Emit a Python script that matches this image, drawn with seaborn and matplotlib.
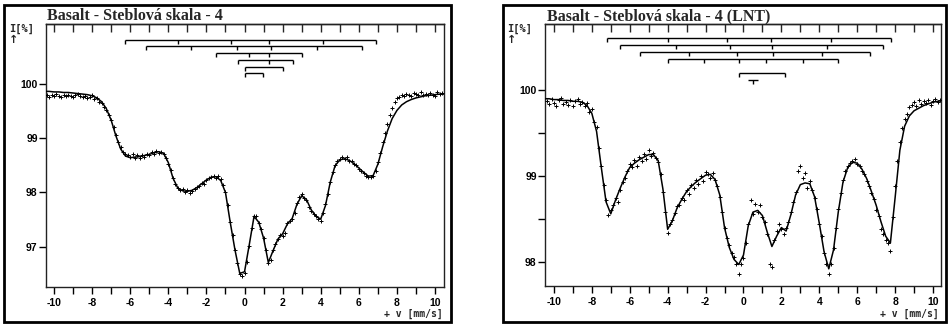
import numpy as np
import pandas as pd
import seaborn as sns
import matplotlib
matplotlib.use("Agg")
import matplotlib.pyplot as plt
from matplotlib.patches import Rectangle
from matplotlib.transforms import blended_transform_factory

# ---------------- data ----------------
TITLE_LEFT = "Basalt - Steblová skala - 4"
TITLE_RIGHT = "Basalt - Steblová skala - 4 (LNT)"
Y_LABEL = "I[%]"
X_LABEL = "+ v [mm/s]"

# fitted curve, velocity channels -10.5 ... 10.5 mm/s step 0.25
FIT_START, FIT_STEP = -10.5, 0.25
LEFT_FIT = [
    99.86, 99.86, 99.85, 99.85, 99.84, 99.84, 99.83, 99.82, 99.81, 99.80,
    99.78, 99.74, 99.67, 99.54, 99.33, 99.04, 98.80, 98.67, 98.64, 98.65,
    98.66, 98.68, 98.70, 98.73, 98.75, 98.72, 98.55, 98.26, 98.08, 98.03,
    98.02, 98.04, 98.09, 98.16, 98.23, 98.28, 98.29, 98.22, 98.00, 97.45,
    96.94, 96.51, 96.54, 97.04, 97.56, 97.45, 97.16, 96.71, 96.93, 97.14,
    97.24, 97.42, 97.52, 97.78, 97.94, 97.87, 97.68, 97.56, 97.51, 97.76,
    98.19, 98.49, 98.60, 98.62, 98.59, 98.53, 98.45, 98.37, 98.30, 98.31,
    98.52, 98.84, 99.13, 99.36, 99.51, 99.61, 99.67, 99.71, 99.74, 99.76,
    99.78, 99.79, 99.80, 99.81, 99.81,
]
RIGHT_FIT = [
    99.90, 99.90, 99.89, 99.89, 99.88, 99.88, 99.87, 99.87, 99.86, 99.82,
    99.73, 99.52, 99.10, 98.70, 98.56, 98.72, 98.86, 98.99, 99.10, 99.15,
    99.19, 99.22, 99.25, 99.25, 99.18, 98.85, 98.38, 98.48, 98.63, 98.73,
    98.82, 98.88, 98.93, 98.97, 99.01, 99.02, 98.96, 98.78, 98.40, 98.17,
    98.03, 97.97, 98.08, 98.42, 98.58, 98.60, 98.54, 98.35, 98.18, 98.30,
    98.40, 98.36, 98.55, 98.78, 98.90, 98.92, 98.91, 98.76, 98.45, 98.12,
    97.92, 98.14, 98.58, 98.93, 99.10, 99.16, 99.15, 99.08, 98.97, 98.82,
    98.66, 98.47, 98.30, 98.22, 98.75, 99.30, 99.58, 99.70, 99.76, 99.79,
    99.82, 99.84, 99.86, 99.87, 99.88,
]

# measured points, velocity channels -10.375 ... 10.375 mm/s step 0.125
DATA_START, DATA_STEP = -10.375, 0.125
LEFT_DATA = [
    99.80, 99.76, 99.79, 99.77, 99.81, 99.78, 99.75, 99.79,
    99.77, 99.80, 99.78, 99.76, 99.79, 99.81, 99.77, 99.75,
    99.78, 99.74, 99.76, 99.79, 99.72, 99.73, 99.66, 99.64,
    99.58, 99.52, 99.43, 99.33, 99.20, 99.05, 98.93, 98.83,
    98.74, 98.70, 98.69, 98.66, 98.70, 98.64, 98.68, 98.63,
    98.69, 98.66, 98.71, 98.68, 98.74, 98.70, 98.76, 98.73,
    98.75, 98.70, 98.64, 98.53, 98.42, 98.26, 98.16, 98.09,
    98.05, 98.07, 98.01, 98.04, 97.99, 98.03, 98.06, 98.10,
    98.12, 98.17, 98.15, 98.22, 98.26, 98.28, 98.31, 98.27,
    98.30, 98.24, 98.14, 98.00, 97.76, 97.46, 97.22, 96.95,
    96.70, 96.50, 96.47, 96.52, 96.72, 97.02, 97.35, 97.57,
    97.57, 97.44, 97.33, 97.16, 96.95, 96.70, 96.76, 96.95,
    97.05, 97.14, 97.22, 97.20, 97.26, 97.44, 97.48, 97.51,
    97.63, 97.80, 97.92, 97.98, 97.90, 97.86, 97.74, 97.66,
    97.60, 97.56, 97.52, 97.48, 97.62, 97.78, 97.98, 98.20,
    98.38, 98.50, 98.58, 98.62, 98.65, 98.61, 98.66, 98.58,
    98.57, 98.52, 98.50, 98.44, 98.40, 98.35, 98.31, 98.28,
    98.29, 98.31, 98.40, 98.56, 98.72, 98.92, 99.10, 99.26,
    99.42, 99.55, 99.66, 99.73, 99.76, 99.79, 99.77, 99.82,
    99.80, 99.78, 99.83, 99.81, 99.79, 99.84, 99.80, 99.82,
    99.79, 99.83, 99.80, 99.78, 99.84, 99.81, 99.83,
]
RIGHT_DATA = [
    99.87, 99.84, 99.90, 99.85, 99.82, 99.88, 99.91, 99.84,
    99.86, 99.83, 99.89, 99.81, 99.87, 99.90, 99.84, 99.86,
    99.82, 99.85, 99.74, 99.78, 99.63, 99.57, 99.33, 99.12,
    98.90, 98.72, 98.55, 98.60, 98.66, 98.74, 98.70, 98.84,
    98.93, 98.98, 99.06, 99.14, 99.10, 99.19, 99.12, 99.22,
    99.18, 99.26, 99.20, 99.30, 99.23, 99.27, 99.21, 99.16,
    99.02, 98.82, 98.58, 98.34, 98.44, 98.49, 98.57, 98.65,
    98.66, 98.75, 98.72, 98.84, 98.79, 98.90, 98.86, 98.95,
    98.91, 99.00, 98.94, 99.05, 99.02, 98.98, 99.04, 98.95,
    98.88, 98.76, 98.58, 98.40, 98.28, 98.20, 98.10, 98.06,
    97.98, 97.86, 97.98, 98.05, 98.22, 98.44, 98.72, 98.56,
    98.68, 98.58, 98.66, 98.52, 98.46, 98.33, 97.98, 97.94,
    98.26, 98.36, 98.44, 98.38, 98.33, 98.40, 98.46, 98.58,
    98.70, 98.82, 99.06, 99.12, 98.98, 99.04, 98.86, 98.94,
    98.84, 98.74, 98.62, 98.44, 98.30, 98.10, 97.98, 97.86,
    97.98, 98.16, 98.40, 98.62, 98.80, 98.95, 99.06, 99.12,
    99.15, 99.18, 99.20, 99.14, 99.12, 99.06, 99.02, 98.94,
    98.88, 98.80, 98.73, 98.60, 98.54, 98.38, 98.32, 98.26,
    98.22, 98.13, 98.52, 98.88, 99.18, 99.40, 99.56, 99.66,
    99.72, 99.80, 99.83, 99.86, 99.82, 99.88, 99.84, 99.87,
    99.85, 99.89, 99.83, 99.87, 99.90, 99.86, 99.88,
]

# line positions of the fitted components (stick diagrams), mm/s
LEFT_STICKS = [
    [-6.27, -3.47, -0.73, 1.30, 4.12, 6.89],
    [-5.15, -2.81, -0.41, 1.38, 3.79, 6.15],
    [-1.51, 0.25, 1.30, 3.00],
    [-0.33, 1.30, 2.53],
    [0.00, 2.00],
    [0.00, 0.95],
]
RIGHT_STICKS = [
    [-7.22, -4.00, -0.89, 1.45, 4.60, 7.78],
    [-6.52, -3.56, -0.71, 1.49, 4.42, 7.35],
    [-5.46, -2.86, -0.33, 1.54, 4.16, 6.68],
    [-4.00, -2.08, -0.22, 1.19, 3.12, 5.00],
    [-0.22, 2.19],
    [0.52],
]

LEFT_YTICKS = [97, 98, 99, 100]
RIGHT_YTICKS = [98, 99, 100]
RIGHT_YMINOR = [98.5, 99.5]
XTICKS = [-10, -8, -6, -4, -2, 0, 2, 4, 6, 8, 10]


def make_frames(fit, data):
    fv = FIT_START + FIT_STEP * np.arange(len(fit))
    dv = DATA_START + DATA_STEP * np.arange(len(data))
    return (pd.DataFrame({"v": fv, "I": fit}),
            pd.DataFrame({"v": dv, "I": data}))


# ---------------- style ----------------
sns.set_theme(style="white")
plt.rcParams["font.family"] = ["Liberation Sans", "DejaVu Sans"]
plt.rcParams["axes.edgecolor"] = "#222222"
plt.rcParams["axes.linewidth"] = 1.0

fig = plt.figure(figsize=(9.48, 3.25), dpi=100)
W, H = 948.0, 325.0


def fx(px):
    return px / W


def fy(py):
    return 1 - py / H


def draw_panel(ax_box, frame_box, fit, data, sticks, stick_levels, xlim, ylim,
               yticks, yminor, title, title_x, ylab_x, xlab_right):
    x0, y0, x1, y1 = ax_box
    ax = fig.add_axes([fx(x0), fy(y1), fx(x1 - x0), (y1 - y0) / H])
    fdf, ddf = make_frames(fit, data)
    sns.scatterplot(data=ddf, x="v", y="I", marker="+", s=11, color="black",
                    linewidth=0.7, ax=ax, legend=False, zorder=3)
    sns.lineplot(data=fdf, x="v", y="I", color="black", linewidth=1.1,
                 ax=ax, legend=False, zorder=4)
    ax.set_xlim(*xlim)
    ax.set_ylim(*ylim)
    ax.set_xlabel("")
    ax.set_ylabel("")
    ax.set_xticks(XTICKS)
    ax.set_xticks([t for t in range(-9, 10, 2)], minor=True)
    ax.set_xticklabels([str(t) for t in XTICKS], fontsize=7.5, fontweight="bold")
    ax.set_yticks(yticks)
    ax.set_yticklabels([str(t) for t in yticks], fontsize=7.5, fontweight="bold")
    if yminor:
        ax.set_yticks(yminor, minor=True)
    ax.tick_params(axis="x", which="both", direction="out", length=5, width=1,
                   bottom=True, top=False, pad=3, colors="black")
    ax.tick_params(axis="y", which="both", direction="out", length=5, width=1,
                   left=True, right=False, pad=1, colors="black")
    sec = ax.secondary_xaxis("top")
    sec.set_xticks(list(range(-10, 11)))
    sec.tick_params(direction="in", length=6, width=1, labeltop=False)
    sec.set_xticklabels([])
    for s in ax.spines.values():
        s.set_visible(True)

    # stick diagrams
    tr = blended_transform_factory(ax.transData, ax.transAxes)
    dy = 0.015
    for pos, lev in zip(sticks, stick_levels):
        if len(pos) == 1:
            ax.hlines(lev, pos[0] - 0.27, pos[0] + 0.27, transform=tr,
                      color="black", lw=1)
            ax.vlines(pos[0], lev - dy, lev, transform=tr, color="black", lw=1)
        else:
            ax.hlines(lev, min(pos), max(pos), transform=tr, color="black", lw=1)
            ax.vlines(pos, lev - dy, lev, transform=tr, color="black", lw=1)

    # frame
    fx0, fy0, fx1, fy1 = frame_box
    fig.patches.append(Rectangle((fx(fx0), fy(fy1)), fx(fx1 - fx0), (fy1 - fy0) / H,
                                 transform=fig.transFigure, fill=False,
                                 ec="black", lw=2.0))
    fig.text(fx(title_x), fy(20), title, family=["Liberation Serif", "DejaVu Serif"],
             fontweight="bold", fontsize=11.5, ha="left", va="baseline")
    fig.text(fx(ylab_x), fy(29), Y_LABEL, fontsize=7.5, fontweight="bold",
             family=["DejaVu Sans Mono", "DejaVu Sans"], ha="left", va="center")
    fig.text(fx(ylab_x + 5), fy(40), "↑", fontsize=8, fontweight="bold",
             family=["DejaVu Sans"], ha="center", va="center")
    fig.text(fx(xlab_right), fy(314), X_LABEL, fontsize=7, fontweight="bold",
             family=["DejaVu Sans Mono", "DejaVu Sans"], ha="right", va="center")
    return ax


draw_panel((46, 24, 444, 287), (4, 5, 451, 322), LEFT_FIT, LEFT_DATA,
           LEFT_STICKS, [0.939, 0.916, 0.890, 0.863, 0.837, 0.814],
           (-10.42, 10.47), (96.26, 101.1), LEFT_YTICKS, None,
           TITLE_LEFT, 47, 9, 443)
draw_panel((545, 24, 941, 286), (503, 5, 946, 322), RIGHT_FIT, RIGHT_DATA,
           RIGHT_STICKS, [0.947, 0.920, 0.893, 0.866, 0.813, 0.786],
           (-10.47, 10.42), (97.72, 100.77), RIGHT_YTICKS, RIGHT_YMINOR,
           TITLE_RIGHT, 547, 507, 939)

fig.savefig("out.png", dpi=100, facecolor="white")
